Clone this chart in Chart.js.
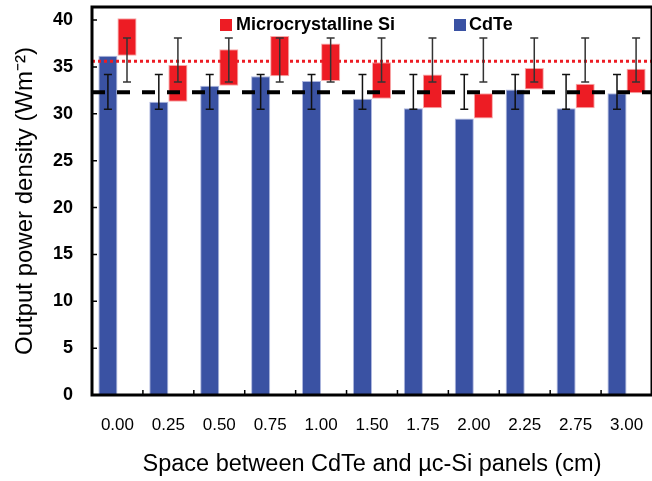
<!DOCTYPE html>
<html>
<head>
<meta charset="utf-8">
<script src="https://cdn.jsdelivr.net/npm/chart.js@4"></script>
<style>
html, body { margin: 0; padding: 0; background: #fff; }
#wrap { width: 652px; height: 481px; }
</style>
</head>
<body>
<div id="wrap"><canvas id="myChart"></canvas></div>
<script>
// Datos de la gráfica
const espacios = ['0.00', '0.25', '0.50', '0.75', '1.00', '1.50', '1.75', '2.00', '2.25', '2.75', '3.00'];
const cdte = [36.2, 31.3, 33.0, 34.0, 33.5, 31.6, 30.6, 29.5, 32.6, 30.6, 32.2];
const microSi = [40.2, 35.2, 36.9, 38.3, 37.5, 35.5, 34.2, 32.2, 34.9, 33.2, 34.8];
// barras de error (límite inferior / superior)
const cdteErrBajo = [30.5, 30.5, 30.5, 30.5, 30.5, 30.5, 30.5, 30.5, 30.5, 30.5, 30.5];
const cdteErrAlto = [34.2, 34.2, 34.2, 34.2, 34.2, 34.2, 34.2, 34.2, 34.2, 34.2, 34.2];
const siErrBajo = [33.4, 33.4, 33.4, 33.4, 33.4, 33.4, 33.4, 33.4, 33.4, 33.4, 33.4];
const siErrAlto = [38.1, 38.1, 38.1, 38.1, 38.1, 38.1, 38.1, 38.1, 38.1, 38.1, 38.1];
// promedios (líneas horizontales)
const mediaCdte = 32.3;
const mediaSi = 35.6;
const ticksY = [0, 5, 10, 15, 20, 25, 30, 35, 40];

const AZUL = '#3a52a3';
const ROJO = '#ed1c24';
const FUENTE = "'Liberation Sans', Arial, sans-serif";

// Dibujos extra: promedios, barras de error, marco, ticks y leyenda
const extras = {
    id: 'extras',
    afterDatasetsDraw(chart) {
        const ctx = chart.ctx;
        const a = chart.chartArea;
        const y = chart.scales.y;
        ctx.save();

        // líneas de promedio
        ctx.lineCap = 'butt';
        ctx.strokeStyle = ROJO;
        ctx.lineWidth = 3;
        ctx.setLineDash([3, 3]);
        ctx.beginPath();
        ctx.moveTo(a.left, y.getPixelForValue(mediaSi));
        ctx.lineTo(a.right, y.getPixelForValue(mediaSi));
        ctx.stroke();

        ctx.strokeStyle = '#000';
        ctx.lineWidth = 4;
        ctx.setLineDash([13, 12]);
        ctx.beginPath();
        ctx.moveTo(a.left, y.getPixelForValue(mediaCdte));
        ctx.lineTo(a.right, y.getPixelForValue(mediaCdte));
        ctx.stroke();
        ctx.setLineDash([]);

        // barras de error
        const errores = [[0, cdteErrBajo, cdteErrAlto, '#111'], [1, siErrBajo, siErrAlto, '#333']];
        errores.forEach(([d, bajo, alto, color]) => {
            chart.getDatasetMeta(d).data.forEach((bar, i) => {
                const y1 = y.getPixelForValue(bajo[i]);
                const y2 = y.getPixelForValue(alto[i]);
                ctx.strokeStyle = color;
                ctx.lineWidth = 1.5;
                ctx.beginPath();
                ctx.moveTo(bar.x, y1); ctx.lineTo(bar.x, y2);
                ctx.moveTo(bar.x - 4, y1); ctx.lineTo(bar.x + 4, y1);
                ctx.moveTo(bar.x - 4, y2); ctx.lineTo(bar.x + 4, y2);
                ctx.stroke();
            });
        });

        // marco del área
        ctx.strokeStyle = '#000';
        ctx.lineWidth = 3;
        ctx.strokeRect(a.left, a.top, a.right - a.left, a.bottom - a.top);

        // ticks hacia adentro
        ctx.lineWidth = 1.5;
        ctx.beginPath();
        ticksY.forEach(v => {
            const py = y.getPixelForValue(v);
            ctx.moveTo(a.left, py); ctx.lineTo(a.left + 5, py);
        });
        const ancho = (a.right - a.left) / espacios.length;
        for (let i = 1; i < espacios.length; i++) {
            const px = a.left + i * ancho;
            ctx.moveTo(px, a.bottom); ctx.lineTo(px, a.bottom - 5);
        }
        ctx.stroke();

        // leyenda
        ctx.font = 'bold 18px ' + FUENTE;
        ctx.textBaseline = 'middle';
        ctx.textAlign = 'left';
        const ly = 25;
        ctx.fillStyle = ROJO;
        ctx.fillRect(220, ly - 6, 12, 12);
        ctx.fillStyle = '#000';
        ctx.fillText(chart.data.datasets[1].label, 236, ly);
        ctx.fillStyle = AZUL;
        ctx.fillRect(454, ly - 6, 12, 12);
        ctx.fillStyle = '#000';
        ctx.fillText(chart.data.datasets[0].label, 469, ly);

        ctx.restore();
    }
};

const ctx = document.getElementById('myChart').getContext('2d');
const myChart = new Chart(ctx, {
    type: 'bar',
    data: {
        labels: espacios,
        datasets: [{
            label: 'CdTe',
            data: cdte,
            backgroundColor: AZUL,
            borderColor: 'rgba(120,135,200,0.6)',
            borderWidth: 1,
            borderSkipped: 'bottom'
        }, {
            label: 'Microcrystalline Si',
            data: microSi.map((v, i) => [cdte[i], v]),
            backgroundColor: ROJO,
            borderColor: 'rgba(240,110,110,0.6)',
            borderWidth: 1,
            borderSkipped: false
        }]
    },
    options: {
        responsive: true,
        maintainAspectRatio: false,
        animation: false,
        layout: { padding: { left: 0, top: 0, bottom: 0, right: -3 } },
        categoryPercentage: 0.75,
        barPercentage: 1.0,
        scales: {
            x: {
                grid: { display: false, drawTicks: false },
                border: { display: false },
                ticks: {
                    color: '#000',
                    padding: 20,
                    maxRotation: 0,
                    autoSkip: false,
                    font: { family: FUENTE, size: 17 }
                },
                title: {
                    display: true,
                    text: 'Space between CdTe and \u00b5c-Si panels (cm)',
                    color: '#000',
                    padding: { top: 0, bottom: 2 },
                    font: { family: FUENTE, size: 23.5 }
                },
                afterFit: s => { s.height = 86; s.paddingLeft = 0; s.paddingRight = 0; }
            },
            y: {
                min: 0,
                max: 41.4,
                grid: { display: false, drawTicks: false },
                border: { display: false },
                afterBuildTicks: s => { s.ticks = ticksY.map(v => ({ value: v })); },
                ticks: {
                    color: '#000',
                    padding: 19,
                    font: { family: FUENTE, size: 18, weight: 'bold' }
                },
                title: {
                    display: true,
                    text: 'Output power density (Wm\u207b\u00b2)',
                    color: '#000',
                    padding: { top: 11, bottom: 0 },
                    font: { family: FUENTE, size: 24 }
                },
                afterFit: s => { s.width = 92; s.paddingTop = 7; s.paddingBottom = 0; }
            }
        },
        plugins: {
            legend: { display: false },
            tooltip: { enabled: false }
        }
    },
    plugins: [extras]
});
</script>
</body>
</html>
